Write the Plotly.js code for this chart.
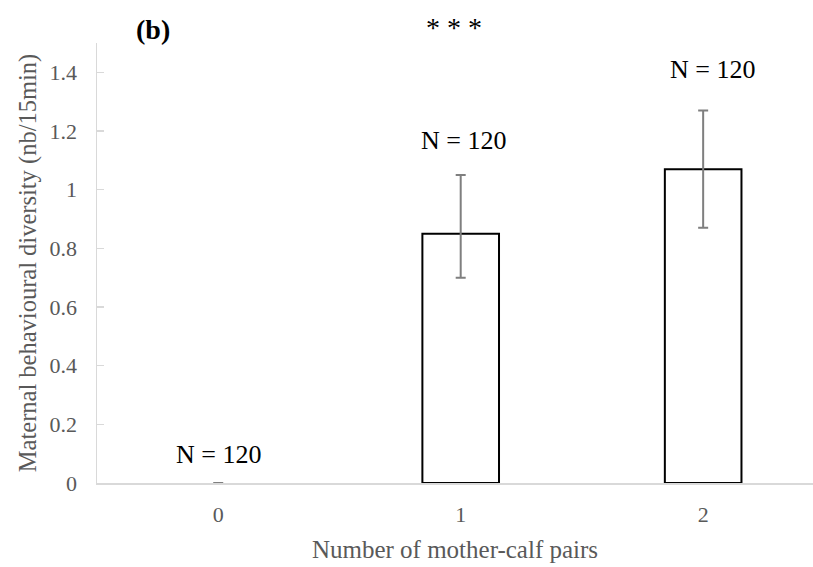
<!DOCTYPE html>
<html>
<head>
<meta charset="utf-8">
<script src="https://cdn.plot.ly/plotly-3.0.1.min.js"></script>
<style>html,body{margin:0;padding:0;background:#fff;}#chart{width:813px;height:567px;}</style>
</head>
<body>
<div id="chart"></div>
<script>
// ---- data ----
const categories = [0, 1, 2];
const tickLabels = ["0", "1", "2"];
const meanValues = [0, 0.85, 1.07];
const errorPlus = [0, 0.20, 0.20];
const errorMinus = [0, 0.15, 0.20];
const sampleLabels = ["N = 120", "N = 120", "N = 120"];
const yTicks = [0, 0.2, 0.4, 0.6, 0.8, 1, 1.2, 1.4];
const yTickLabels = ["0", "0.2", "0.4", "0.6", "0.8", "1", "1.2", "1.4"];
const panelLabel = "(b)";
const significance = "* * *";

const serif = "Liberation Serif, Times New Roman, serif";
const grey = "#595959";

const trace = {
  type: "bar",
  x: categories,
  y: meanValues,
  width: 0.316,
  marker: {
    color: "#ffffff",
    line: {color: "#000000", width: meanValues.map(v => v === 0 ? 0 : 2)}
  },
  error_y: {
    type: "data", symmetric: false,
    array: errorPlus, arrayminus: errorMinus,
    color: "#7f7f7f", thickness: 2, width: 5
  },
  hoverinfo: "skip"
};

const W = 813, H = 567, ML = 97, MR = 0, MT = 43, MB = 84;
const plotW = W - ML - MR, plotH = H - MT - MB;
const px = x => (x - ML) / plotW;
const py = y => (H - MB - y) / plotH;

const labelShiftY = [12, 18, 24];
const labelShiftX = [0, 3, 9];
const annotations = categories.map((c, i) => ({
  x: c, y: meanValues[i] + errorPlus[i], xref: "x", yref: "y",
  text: sampleLabels[i], showarrow: false,
  xanchor: "center", yanchor: "bottom",
  xshift: labelShiftX[i], yshift: labelShiftY[i],
  font: {family: serif, size: 26, color: "#000"}
}));
annotations.push({
  x: px(153), y: py(29), xref: "paper", yref: "paper",
  xanchor: "center", yanchor: "middle",
  text: "<b>" + panelLabel + "</b>", showarrow: false,
  font: {family: serif, size: 28, color: "#000"}
});
annotations.push({
  x: px(454), y: py(28), xref: "paper", yref: "paper",
  xanchor: "center", yanchor: "middle",
  text: significance, showarrow: false,
  font: {family: serif, size: 28, color: "#000"}
});

const layout = {
  width: W, height: H,
  margin: {l: ML, r: MR, t: MT, b: MB, pad: 0},
  paper_bgcolor: "#fff", plot_bgcolor: "#fff",
  showlegend: false,
  xaxis: {
    range: [-0.5, 2.453], tickvals: categories, ticktext: tickLabels,
    showgrid: false, zeroline: false, showline: true, linecolor: "#d9d9d9", linewidth: 1.5,
    ticks: "", ticklabelstandoff: 11,
    tickfont: {family: serif, size: 22, color: grey},
    title: {text: "Number of mother-calf pairs", font: {family: serif, size: 25, color: grey}, standoff: 14},
    fixedrange: true
  },
  yaxis: {
    range: [0, 1.5], tickvals: yTicks, ticktext: yTickLabels,
    showgrid: false, zeroline: false, showline: true, linecolor: "#d9d9d9", linewidth: 1.5,
    ticks: "inside", ticklen: 7, tickcolor: "#d9d9d9", tickwidth: 1.5,
    ticklabelstandoff: 14,
    tickfont: {family: serif, size: 22, color: grey},
    title: {text: "Maternal behavioural diversity (nb/15min)", font: {family: serif, size: 24.5, color: grey}, standoff: 6},
    fixedrange: true
  },
  annotations: annotations
};

Plotly.newPlot("chart", [trace], layout, {displayModeBar: false, staticPlot: true});
</script>
</body>
</html>
